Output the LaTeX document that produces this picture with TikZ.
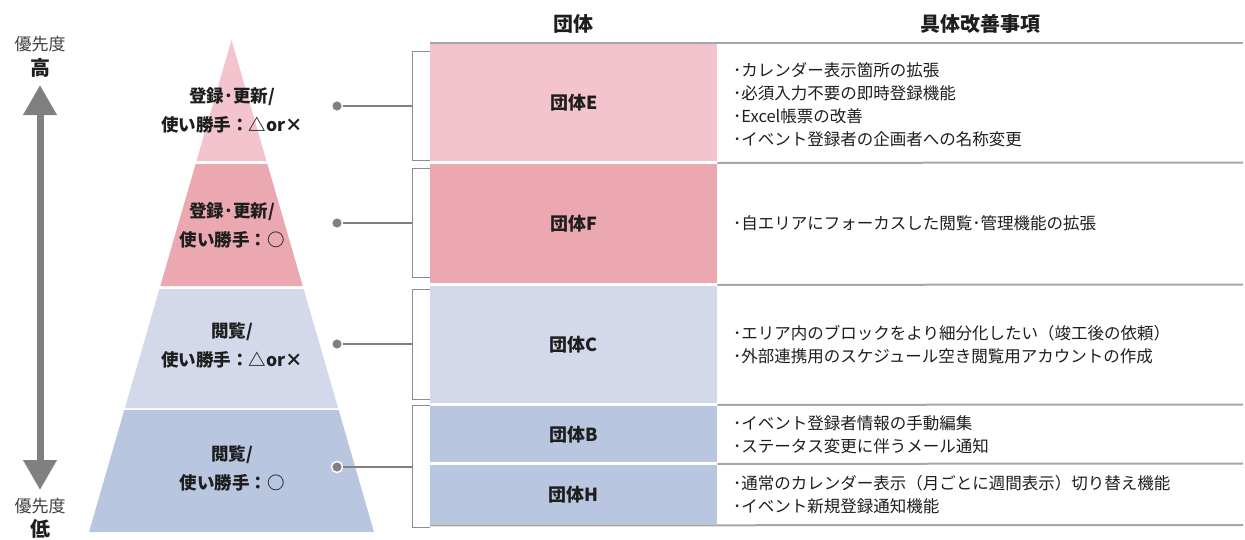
\documentclass[tikz,border=0pt]{standalone}
\usepackage{fontspec}
\setmainfont{Noto Sans CJK JP}
\usetikzlibrary{arrows.meta}
\definecolor{pinkA}{HTML}{F3C4CD}
\definecolor{pinkB}{HTML}{EBA8B1}
\definecolor{blueA}{HTML}{D3D9EA}
\definecolor{blueB}{HTML}{B9C6E0}
\definecolor{lineg}{HTML}{A6A6A6}
\definecolor{dotg}{HTML}{808080}
\definecolor{txt}{HTML}{1E1E1E}
\tikzset{
  gcell/.style={anchor=north west, minimum width=287pt, inner sep=0pt, text=txt, font=\fontsize{18}{20}\selectfont\bfseries},
  itemtext/.style={anchor=west, align=left, inner sep=0pt, text=txt, font=\fontsize{16.5}{23}\selectfont},
  plabel/.style={align=center, inner sep=0pt, text=txt, font=\fontsize{17.5}{29}\selectfont\bfseries},
  sepline/.style={draw=lineg, line width=2pt},
  brk/.style={draw=lineg!85!black, line width=1pt},
  conn/.style={draw=dotg, line width=1.5pt},
  dotmark/.style={circle, fill=dotg, draw=white, line width=1.5pt, minimum size=11pt, inner sep=0pt},
  head/.style={text=txt, font=\fontsize{20}{22}\selectfont\bfseries, inner sep=0pt},
}
\begin{document}
\begin{tikzpicture}[x=1pt,y=-1pt]
\useasboundingbox (0,0) rectangle (1245,539);
% pyramid bands (center 231.5, half-width 0.2896*(y-40))
\fill[pinkA] (231.5,40) -- (266.5,161) -- (196.5,161) -- cycle;
\fill[pinkB] (195.6,164) -- (267.4,164) -- (302.7,286) -- (160.3,286) -- cycle;
\fill[blueA] (159.4,289) -- (303.6,289) -- (338.1,408) -- (124.9,408) -- cycle;
\fill[blueB] (124.3,410) -- (338.7,410) -- (374,532) -- (89,532) -- cycle;
\node[plabel] (p1) at (232,110) {登録･更新/\\使い勝手：△or×};
\node[plabel] (p2) at (232,225) {登録･更新/\\使い勝手：○};
\node[plabel] (p3) at (232,345) {閲覧/\\使い勝手：△or×};
\node[plabel] (p4) at (232,468) {閲覧/\\使い勝手：○};
% priority arrow
\coordinate (atop) at (40,85);
\coordinate (abot) at (40,490);
\draw[dotg, line width=7pt, {Triangle[width=32pt,length=30pt]}-{Triangle[width=32pt,length=30pt]}] (abot) -- (atop);
\node[text=txt!85, font=\fontsize{17}{18}\selectfont, inner sep=0pt] (hi1) at (40,44) {優先度};
\node[text=txt, font=\fontsize{20}{22}\selectfont\bfseries, inner sep=0pt] (hi2) at (40,68) {高};
\node[text=txt!85, font=\fontsize{17}{18}\selectfont, inner sep=0pt] (lo1) at (40,506) {優先度};
\node[text=txt, font=\fontsize{20}{22}\selectfont\bfseries, inner sep=0pt] (lo2) at (40,529) {低};
% headers
\node[head] (h1) at (573,24) {団体};
\node[head] (h2) at (980,24) {具体改善事項};
% group cells
\node[gcell, fill=pinkA, minimum height=118pt] (gE) at (430,43) {団体E};
\node[gcell, fill=pinkB, minimum height=119pt] (gF) at (430,164) {団体F};
\node[gcell, fill=blueA, minimum height=117pt] (gC) at (430,286) {団体C};
\node[gcell, fill=blueB, minimum height=56pt] (gB) at (430,406) {団体B};
\node[gcell, fill=blueB, minimum height=59pt] (gH) at (430,465) {団体H};
% items
\node[itemtext] (iE) at (733,104.5) {･カレンダー表示箇所の拡張\\･必須入力不要の即時登録機能\\･Excel帳票の改善\\･イベント登録者の企画者への名称変更};
\node[itemtext] (iF) at (733,223) {･自エリアにフォーカスした閲覧･管理機能の拡張};
\node[itemtext] (iC) at (733,345) {･エリア内のブロックをより細分化したい（竣工後の依頼）\\･外部連携用のスケジュール空き閲覧用アカウントの作成};
\node[itemtext] (iB) at (733,434.5) {･イベント登録者情報の手動編集\\･ステータス変更に伴うメール通知};
\node[itemtext] (iH) at (733,494.5) {･通常のカレンダー表示（月ごとに週間表示）切り替え機能\\･イベント新規登録通知機能};
% separator lines
\draw[sepline] (gE.north west) -- (1243,43);
\draw[sepline] (gE.south east) ++(0,1.5) -- (1243,162.5);
\draw[sepline] (gF.south east) ++(0,1.5) -- (1243,284.5);
\draw[sepline] (gC.south east) ++(0,1.5) -- (1243,404.5);
\draw[sepline] (gB.south east) ++(0,1.5) -- (1243,463.5);
\draw[sepline] (gH.south west) ++(0,1) -- (1243,525);
% brackets
\draw[brk] (gE.west |- 0,51) -- (412,51) -- (412,160) -- (gE.west |- 0,160);
\draw[brk] (gF.west |- 0,168) -- (412,168) -- (412,277) -- (gF.west |- 0,277);
\draw[brk] (gC.west |- 0,289) -- (412,289) -- (412,399) -- (gC.west |- 0,399);
\draw[brk] (gB.west |- 0,405) -- (412,405) -- (412,527) -- (gH.west |- 0,527);
\coordinate (b1) at (412,106);
\coordinate (b2) at (412,223);
\coordinate (b3) at (412,344);
\coordinate (b4) at (412,467);
\node[dotmark] (d1) at (337,106) {};
\node[dotmark] (d2) at (337,223) {};
\node[dotmark] (d3) at (337,344) {};
\node[dotmark] (d4) at (337,467) {};
\draw[conn] (d1) -- (b1);
\draw[conn] (d2) -- (b2);
\draw[conn] (d3) -- (b3);
\draw[conn] (d4) -- (b4);
\end{tikzpicture}
\end{document}
